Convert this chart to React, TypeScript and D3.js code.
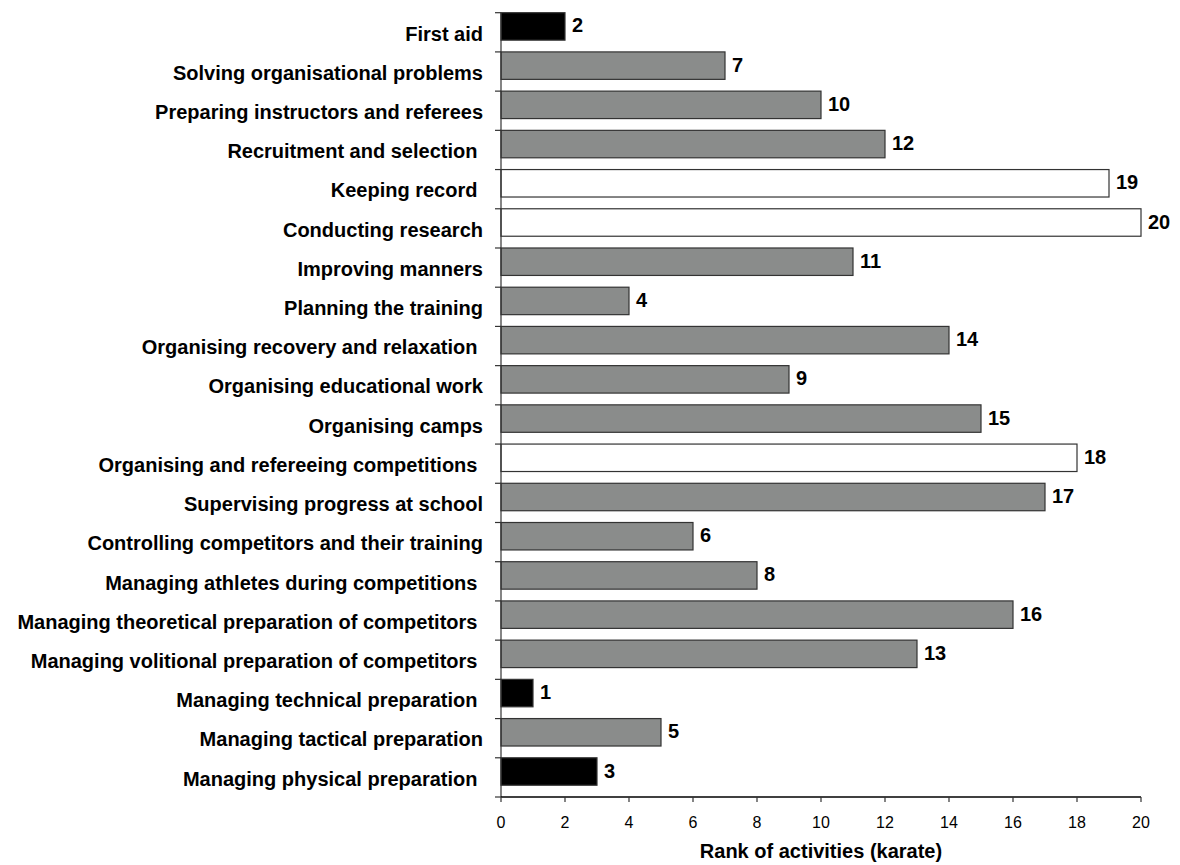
import React from "react";
import * as d3 from "d3";

const categories = [
  "First aid",
  "Solving organisational problems",
  "Preparing instructors and referees",
  "Recruitment and selection ",
  "Keeping record ",
  "Conducting research",
  "Improving manners",
  "Planning the training",
  "Organising recovery and relaxation ",
  "Organising educational work",
  "Organising camps",
  "Organising and refereeing competitions ",
  "Supervising progress at school",
  "Controlling competitors and their training",
  "Managing athletes during competitions ",
  "Managing theoretical preparation of competitors ",
  "Managing volitional preparation of competitors ",
  "Managing technical preparation ",
  "Managing tactical preparation",
  "Managing physical preparation ",
];
const ranks = [2, 7, 10, 12, 19, 20, 11, 4, 14, 9, 15, 18, 17, 6, 8, 16, 13, 1, 5, 3];
const xTicks = [0, 2, 4, 6, 8, 10, 12, 14, 16, 18, 20];
const xTitle = "Rank of activities (karate)";

const W = 1180, H = 865;
const left = 501, right = 1141, top = 12.7, bottom = 797;

function fillFor(r: number) {
  if (r <= 3) return "#000000";
  if (r >= 18) return "#ffffff";
  return "#8a8c8b";
}

export default function App() {
  const x = d3.scaleLinear().domain([0, 20]).range([left, right]);
  const y = d3.scaleBand<string>().domain(categories).range([top, bottom]).paddingInner(0).paddingOuter(0);
  const bw = y.bandwidth();
  const barH = bw * 0.7;
  const font = "Arial, 'Liberation Sans', sans-serif";
  const bandEdges = d3.range(categories.length + 1).map((i) => top + i * bw);
  return (
    <svg width={W} height={H} style={{ position: "absolute", left: 0, top: 0, background: "#fff" }} fontFamily={font}>
      {categories.map((c, i) => {
        const yy = y(c)!;
        return (
          <g key={i}>
            <rect x={x(0)} y={yy} width={x(ranks[i]) - x(0)} height={barH} fill={fillFor(ranks[i])} stroke="#333" strokeWidth={1.2} />
            <text x={x(ranks[i]) + 7} y={yy + barH / 2} dy="0.3em" fontSize={20} fontWeight="bold" fill="#000">{ranks[i]}</text>
            <text x={483} y={yy + bw / 2 + 1} dy="0.36em" textAnchor="end" fontSize={20} fontWeight="bold" fill="#000" style={{ whiteSpace: "pre" }}>{c}</text>
          </g>
        );
      })}
      <line x1={left} x2={left} y1={top} y2={bottom} stroke="#333" strokeWidth={1.2} />
      {bandEdges.map((v, i) => (
        <line key={i} x1={left - 6} x2={left} y1={v} y2={v} stroke="#333" strokeWidth={1.2} />
      ))}
      <line x1={left} x2={right} y1={bottom} y2={bottom} stroke="#000" strokeWidth={1.5} />
      {xTicks.map((t) => (
        <g key={t}>
          <line x1={x(t)} x2={x(t)} y1={bottom} y2={bottom + 5} stroke="#333" strokeWidth={1.2} />
          <text x={x(t)} y={828} textAnchor="middle" fontSize={16} fill="#000">{t}</text>
        </g>
      ))}
      <text x={(left + right) / 2} y={858} textAnchor="middle" fontSize={20} fontWeight="bold" fill="#000">{xTitle}</text>
    </svg>
  );
}
